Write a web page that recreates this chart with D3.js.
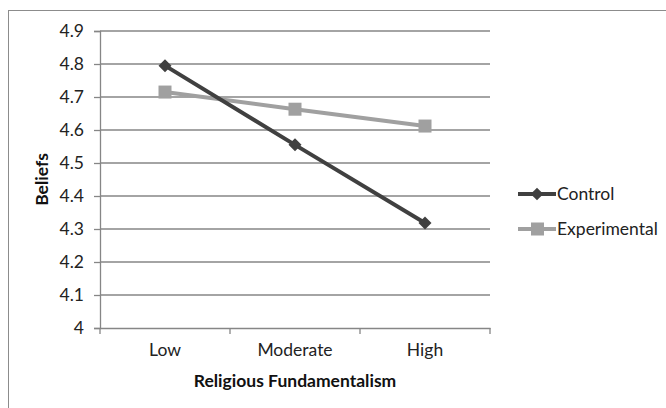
<!DOCTYPE html>
<html><head><meta charset="utf-8">
<script src="https://cdn.jsdelivr.net/npm/d3@7"></script>
<style>body{margin:0;background:#fff}svg{display:block}</style>
</head><body>
<svg id="c" width="666" height="408"></svg>
<script>
const categories = ["Low", "Moderate", "High"];
const control = [4.795, 4.555, 4.318];
const experimental = [4.715, 4.663, 4.612];
const yTicks = [4, 4.1, 4.2, 4.3, 4.4, 4.5, 4.6, 4.7, 4.8, 4.9];
const seriesNames = ["Control", "Experimental"];

const FONT = "Lato";
const FS = 17.5;
const svg = d3.select("#c");
const m = {l: 100, r: 490, t: 31, b: 328};
const x = d3.scaleBand().domain(categories).range([m.l, m.r]);
const y = d3.scaleLinear().domain([4, 4.9]).range([m.b, m.t]);
const axisCol = "#868686";

svg.append("rect").attr("x", 8.5).attr("y", 10.5).attr("width", 700).attr("height", 500)
  .attr("fill", "none").attr("stroke", "#8c8c8c").attr("stroke-width", 1);

// gridlines
svg.append("g").selectAll("line").data(yTicks.filter(d => d > 4)).join("line")
  .attr("x1", m.l).attr("x2", m.r).attr("y1", d => y(d)).attr("y2", d => y(d))
  .attr("stroke", axisCol).attr("stroke-width", 1.3);

// y axis
const ya = svg.append("g").attr("transform", `translate(${m.l},0)`)
  .call(d3.axisLeft(y).tickValues(yTicks).tickFormat(d => d === 4 ? "4" : d3.format(".1f")(d)).tickSize(6).tickPadding(10));
ya.attr("font-family", FONT).attr("font-size", FS);
ya.select(".domain").attr("stroke", axisCol).attr("stroke-width", 1.3);
ya.selectAll(".tick line").attr("stroke", axisCol).attr("stroke-width", 1.3);
ya.selectAll("text").attr("fill", "#222");

// x axis
const xa = svg.append("g").attr("transform", `translate(0,${m.b})`)
  .call(d3.axisBottom(x).tickSize(0).tickPadding(16));
xa.attr("font-family", FONT).attr("font-size", FS);
xa.select(".domain").attr("stroke", axisCol).attr("stroke-width", 1.3);
xa.selectAll("text").attr("fill", "#222");
xa.selectAll("line.bt").data([...categories.map(c => x(c)), m.r]).join("line")
  .attr("class", "bt").attr("x1", d => d).attr("x2", d => d).attr("y1", 0).attr("y2", 6)
  .attr("stroke", axisCol).attr("stroke-width", 1.3);

// titles
svg.append("text").attr("x", (m.l + m.r) / 2).attr("y", 387).attr("text-anchor", "middle")
  .attr("font-family", FONT).attr("font-size", FS).attr("font-weight", "bold").attr("fill", "#111").text("Religious Fundamentalism");
svg.append("text").attr("transform", `translate(48,${(m.t + m.b) / 2}) rotate(-90)`).attr("text-anchor", "middle")
  .attr("font-family", FONT).attr("font-size", FS).attr("font-weight", "bold").attr("fill", "#111").text("Beliefs");

const cx = d => x(d) + x.bandwidth() / 2;
const line = d3.line().x((d, i) => cx(categories[i])).y(d => y(d));
const colors = ["#404040", "#a0a0a0"];
const data = [control, experimental];

[1, 0].forEach(si => {
  svg.append("path").datum(data[si]).attr("d", line).attr("fill", "none")
    .attr("stroke", colors[si]).attr("stroke-width", 4);
  const g = svg.append("g");
  data[si].forEach((v, i) => {
    if (si === 0) {
      g.append("path").attr("d", d3.symbol(d3.symbolSquare, 85)())
        .attr("transform", `translate(${cx(categories[i])},${y(v)}) rotate(45)`).attr("fill", colors[0]);
    } else {
      g.append("rect").attr("x", cx(categories[i]) - 6.5).attr("y", y(v) - 6.5).attr("width", 13).attr("height", 13).attr("fill", colors[1]);
    }
  });
});

// legend
const lg = svg.append("g");
seriesNames.forEach((n, i) => {
  const ly = 194 + i * 35;
  lg.append("line").attr("x1", 518).attr("x2", 556).attr("y1", ly).attr("y2", ly).attr("stroke", colors[i]).attr("stroke-width", 4);
  if (i === 0) {
    lg.append("path").attr("d", d3.symbol(d3.symbolSquare, 80)()).attr("transform", `translate(537,${ly}) rotate(45)`).attr("fill", colors[0]);
  } else {
    lg.append("rect").attr("x", 531).attr("y", ly - 6.5).attr("width", 13).attr("height", 13).attr("fill", colors[1]);
  }
  lg.append("text").attr("x", 557).attr("y", ly).attr("dy", "0.35em").attr("font-family", FONT).attr("font-size", FS).attr("fill", "#222").text(n);
});
</script>
</body></html>
